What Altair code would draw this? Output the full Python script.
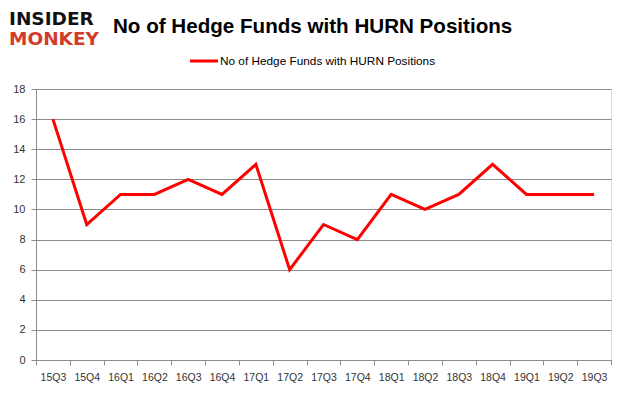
import altair as alt
import pandas as pd

quarters = ["15Q3", "15Q4", "16Q1", "16Q2", "16Q3", "16Q4", "17Q1", "17Q2", "17Q3",
            "17Q4", "18Q1", "18Q2", "18Q3", "18Q4", "19Q1", "19Q2", "19Q3"]
funds = [16, 9, 11, 11, 12, 11, 13, 6, 9, 8, 11, 10, 11, 13, 11, 11, 11]

title_text = "No of Hedge Funds with HURN Positions"
legend_text = "No of Hedge Funds with HURN Positions"

df = pd.DataFrame({"quarter": quarters, "funds": funds})
one = pd.DataFrame({"k": [0]})

FONT = "Liberation Sans"
GRID = "#8c8c8c"

x = alt.X("quarter:O", sort=quarters, bandPosition=0.5,
          scale=alt.Scale(type="band", paddingInner=0, paddingOuter=0),
          axis=alt.Axis(title=None, labelAngle=0, tickBand="extent", grid=False,
                        domainColor=GRID, tickColor=GRID, tickSize=5,
                        labelFont=FONT, labelFontSize=10.5, labelColor="#333333",
                        labelPadding=7))
y = alt.Y("funds:Q", scale=alt.Scale(domain=[0, 18], nice=False),
          axis=alt.Axis(title=None, values=list(range(0, 19, 2)), grid=True,
                        gridColor=GRID, domainColor=GRID, tickColor=GRID, tickSize=5,
                        labelFont=FONT, labelFontSize=11, labelColor="#333333",
                        labelPadding=6))

line = alt.Chart(df).mark_line(color="#ff0000", strokeWidth=3).encode(x=x, y=y)

base1 = alt.Chart(one)
title = base1.mark_text(font=FONT, fontSize=20.6, fontWeight="bold", align="left",
                        baseline="alphabetic", color="#000000").encode(
    x=alt.value(77), y=alt.value(-56), text=alt.value(title_text))
logo1 = base1.mark_text(font="DejaVu Sans", fontSize=18.5, fontWeight="bold", align="left",
                        baseline="middle", color="#111111").encode(
    x=alt.value(-27), y=alt.value(-70), text=alt.value("INSIDER"))
logo2 = base1.mark_text(font="DejaVu Sans", fontSize=18.5, fontWeight="bold", align="left",
                        baseline="middle", color="#d13b2a").encode(
    x=alt.value(-27), y=alt.value(-50), text=alt.value("MONKEY"))
leg_line = base1.mark_rule(color="#ff0000", strokeWidth=3).encode(
    x=alt.value(154), x2=alt.value(182), y=alt.value(-28))
leg_text = base1.mark_text(font=FONT, fontSize=11.8, align="left", baseline="middle",
                           color="#000000").encode(
    x=alt.value(184), y=alt.value(-28), text=alt.value(legend_text))

chart = alt.layer(line, title, logo1, logo2, leg_line, leg_text).properties(
    width=575, height=271,
    autosize=alt.AutoSizeParams(type="none"),
    padding={"left": 28, "top": 81, "right": 6, "bottom": 27},
).configure_view(stroke=None).configure(background="white")

chart.save("out.html", embed_options={"renderer": "svg", "actions": False})
